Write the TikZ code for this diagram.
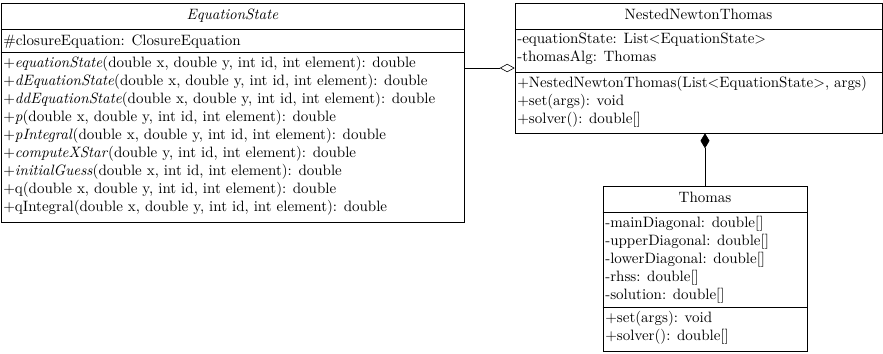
\documentclass[tikz,border=0pt]{standalone}
\usetikzlibrary{arrows.meta,fit}
\begin{document}
\begin{tikzpicture}[x=0.6667pt,y=-0.6667pt,
  classbox/.style={draw, inner sep=0pt, line width=0.4pt},
  classtitle/.style={anchor=north, inner sep=0pt, execute at begin node=\strut},
  member/.style={anchor=north west, inner sep=0pt, align=left, execute at begin node=\strut},
  sepline/.style={line width=0.4pt},
  aggregation/.style={{Diamond[open,length=10pt,width=5.5pt]}-, line width=0.4pt},
  composition/.style={{Diamond[length=10pt,width=6pt]}-, line width=0.4pt}]
\useasboundingbox (0,0) rectangle (883,353);

% EquationState
\node[classbox, fit={(1,3) (464,222)}] (eqs) {};
\draw[sepline] (eqs.west |- 0,29) -- (eqs.east |- 0,29);
\draw[sepline] (eqs.west |- 0,52) -- (eqs.east |- 0,52);
\node[classtitle] (eqsT) at (232.5,6.5) {\textit{EquationState}};
\node[member] (eqsA) at (3,32.5) {\#closureEquation: ClosureEquation};
\node[member] (eqsO) at (3,55.5) {+\textit{equationState}(double x, double y, int id, int element): double\\
+\textit{dEquationState}(double x, double y, int id, int element): double\\
+\textit{ddEquationState}(double x, double y, int id, int element): double\\
+\textit{p}(double x, double y, int id, int element): double\\
+\textit{pIntegral}(double x, double y, int id, int element): double\\
+\textit{computeXStar}(double y, int id, int element): double\\
+\textit{initialGuess}(double x, int id, int element): double\\
+q(double x, double y, int id, int element): double\\
+qIntegral(double x, double y, int id, int element): double};

% NestedNewtonThomas
\node[classbox, fit={(515,3) (882,133)}] (nnt) {};
\draw[sepline] (nnt.west |- 0,29) -- (nnt.east |- 0,29);
\draw[sepline] (nnt.west |- 0,72) -- (nnt.east |- 0,72);
\node[classtitle] (nntT) at (698.5,6.5) {NestedNewtonThomas};
\node[member] (nntA) at (517,32.5) {-equationState: List$<$EquationState$>$\\
-thomasAlg: Thomas};
\node[member] (nntO) at (517,75.5) {+NestedNewtonThomas(List$<$EquationState$>$, args)\\
+set(args): void\\
+solver(): double[]};

% Thomas
\node[classbox, fit={(603,186) (807,351)}] (thomas) {};
\draw[sepline] (thomas.west |- 0,212) -- (thomas.east |- 0,212);
\draw[sepline] (thomas.west |- 0,307) -- (thomas.east |- 0,307);
\node[classtitle] (thomasT) at (705,189.5) {Thomas};
\node[member] (thomasA) at (605,215.5) {-mainDiagonal: double[]\\
-upperDiagonal: double[]\\
-lowerDiagonal: double[]\\
-rhss: double[]\\
-solution: double[]};
\node[member] (thomasO) at (605,310.5) {+set(args): void\\
+solver(): double[]};

% connectors
\draw[aggregation] (nnt.west) -- (nnt.west -| eqs.east);
\draw[composition] (thomas.north |- nnt.south) -- (thomas.north);
\end{tikzpicture}
\end{document}
